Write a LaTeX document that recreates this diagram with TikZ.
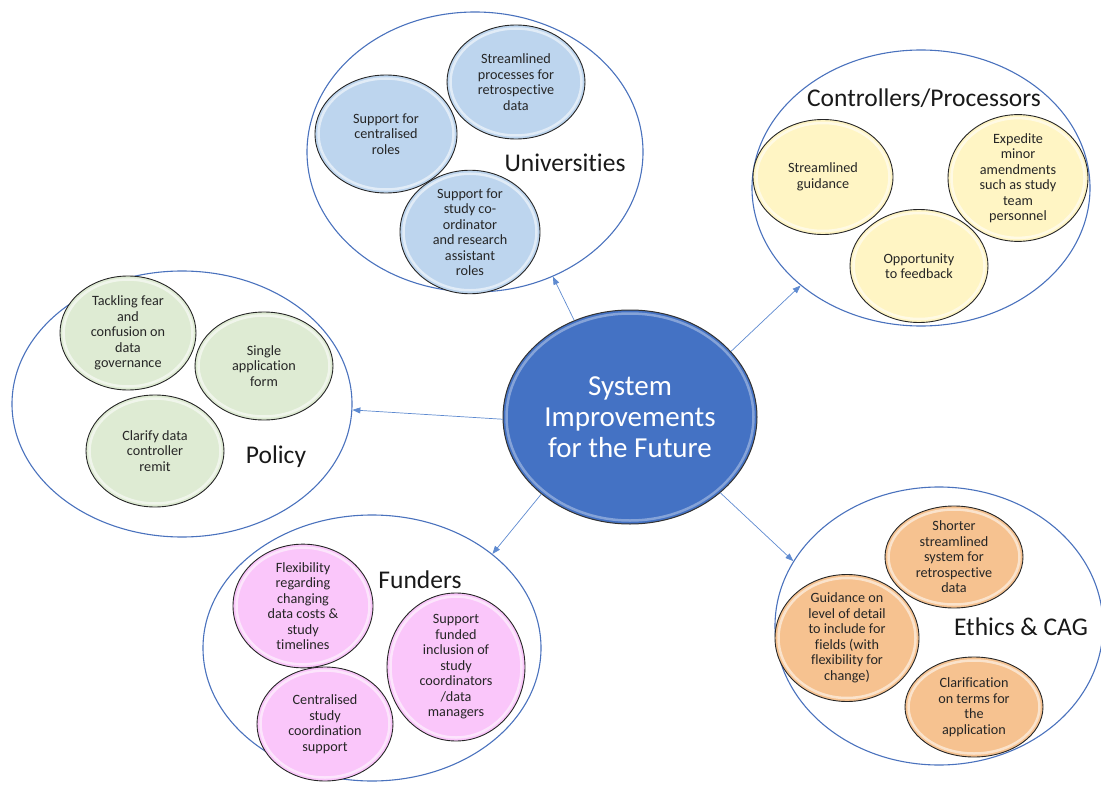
\documentclass[tikz,border=0pt]{standalone}
\usepackage{fontspec}
\setmainfont{Carlito}[Ligatures=NoCommon]
\usetikzlibrary{shapes.geometric,arrows.meta,calc}

\definecolor{ringblue}{HTML}{4A72BD}
\definecolor{hubblue}{HTML}{4472C4}
\definecolor{linkblue}{HTML}{5E8AD0}
\definecolor{unifill}{HTML}{BDD5EE}
\definecolor{ctrlfill}{HTML}{FFF5C4}
\definecolor{polfill}{HTML}{DEEBD3}
\definecolor{fundfill}{HTML}{FAC6FA}
\definecolor{ethfill}{HTML}{F6C290}

\tikzset{
  glow/.style = {path picture = {
    \path let \p1 = ($(path picture bounding box.north east) - (path picture bounding box.center)$) in
      [draw = white, opacity = #1, line width = 2.5pt]
      (path picture bounding box.center) ellipse ({abs(\x1) - 3.5pt} and {abs(\y1) - 3.5pt});}},
  group/.style = {ellipse, draw = ringblue, line width = 1.1pt, inner sep = 0pt},
  hub/.style = {ellipse, draw = black!80, line width = 1pt, fill = hubblue, text = white, glow = 0.35,
    inner sep = 0pt, align = center, font = \fontsize{29}{31}\selectfont},
  idea/.style = {ellipse, draw = black!85, line width = 0.9pt, inner sep = 0pt, glow = 0.55,
    align = center, text = black!85, font = \fontsize{14.2}{15.5}\selectfont},
  grouplabel/.style = {font = \fontsize{25.5}{28}\selectfont, text = black!90},
  link/.style = {draw = linkblue, line width = 0.7pt, -{Triangle[length = 8pt, width = 6pt]}}
}

\begin{document}
\begin{tikzpicture}[x = 1pt, y = -1pt]
  \useasboundingbox (0, 0) rectangle (1101, 789);

  % outer groups
  \node[group, minimum width = 336, minimum height = 280] (uni) at (475, 152) {};
  \node[group, minimum width = 338, minimum height = 276] (ctrl) at (921, 188) {};
  \node[group, minimum width = 340, minimum height = 266] (pol) at (182, 404) {};
  \node[group, minimum width = 338, minimum height = 266] (fund) at (372, 648) {};
  \node[group, minimum width = 328, minimum height = 278] (eth) at (939, 626) {};

  % centre
  \node[hub, minimum width = 254, minimum height = 214] (sys) at (630, 417)
    {System\\Improvements\\for the Future};

  % universities
  \node[idea, fill = unifill, minimum width = 138, minimum height = 114] (uniA) at (516, 82)
    {Streamlined\\processes for\\retrospective\\data};
  \node[idea, fill = unifill, minimum width = 142, minimum height = 118] (uniB) at (386, 134)
    {Support for\\centralised\\roles};
  \node[idea, fill = unifill, minimum width = 140, minimum height = 110] (uniC) at (470, 232)
    {Support for\\study co-\\ordinator\\and research\\assistant\\roles};
  \node[grouplabel] (uniL) at (565, 163) {Universities};

  % controllers / processors
  \node[idea, fill = ctrlfill, minimum width = 140, minimum height = 115] (ctrlA) at (823, 177)
    {Streamlined\\guidance};
  \node[idea, fill = ctrlfill, minimum width = 140, minimum height = 114] (ctrlB) at (1018, 178)
    {Expedite\\minor\\amendments\\such as study\\team\\personnel};
  \node[idea, fill = ctrlfill, minimum width = 138, minimum height = 113] (ctrlC) at (919, 266)
    {Opportunity\\to feedback};
  \node[grouplabel] (ctrlL) at (924, 98) {Controllers/Processors};

  % policy
  \node[idea, fill = polfill, minimum width = 136, minimum height = 114] (polA) at (128, 333)
    {Tackling fear\\and\\confusion on\\data\\governance};
  \node[idea, fill = polfill, minimum width = 138, minimum height = 108] (polB) at (264, 366)
    {Single\\application\\form};
  \node[idea, fill = polfill, minimum width = 138, minimum height = 112] (polC) at (155, 451)
    {Clarify data\\controller\\remit};
  \node[grouplabel] (polL) at (276, 457) {Policy};

  % funders
  \node[idea, fill = fundfill, minimum width = 140, minimum height = 112] (fundA) at (303, 606)
    {Flexibility\\regarding\\changing\\data costs \&\\study\\timelines};
  \node[idea, fill = fundfill, minimum width = 138, minimum height = 112] (fundB) at (456, 667)
    {Support\\funded\\inclusion of\\study\\coordinators\\/data\\managers};
  \node[idea, fill = fundfill, minimum width = 136, minimum height = 114] (fundC) at (325, 724)
    {Centralised\\study\\coordination\\support};
  \node[grouplabel] (fundL) at (420, 580) {Funders};

  % ethics & CAG
  \node[idea, fill = ethfill, minimum width = 138, minimum height = 102] (ethA) at (954, 557)
    {Shorter\\streamlined\\system for\\retrospective\\data};
  \node[idea, fill = ethfill, minimum width = 144, minimum height = 110] (ethB) at (847, 638)
    {Guidance on\\level of detail\\to include for\\fields (with\\flexibility for\\change)};
  \node[idea, fill = ethfill, minimum width = 138, minimum height = 100] (ethC) at (974, 707)
    {Clarification\\on terms for\\the\\application};
  \node[grouplabel] (ethL) at (1021, 627) {Ethics \& CAG};

  % links
  \draw[link] (sys.120) -- (uni.-58);
  \draw[link] (sys.33) -- (ctrl.219.5);
  \draw[link] (sys.181) -- (pol.-2.4);
  \draw[link] (sys.221.6) -- (fund.38);
  \draw[link] (sys.-40) -- (eth.156);
\end{tikzpicture}
\end{document}
